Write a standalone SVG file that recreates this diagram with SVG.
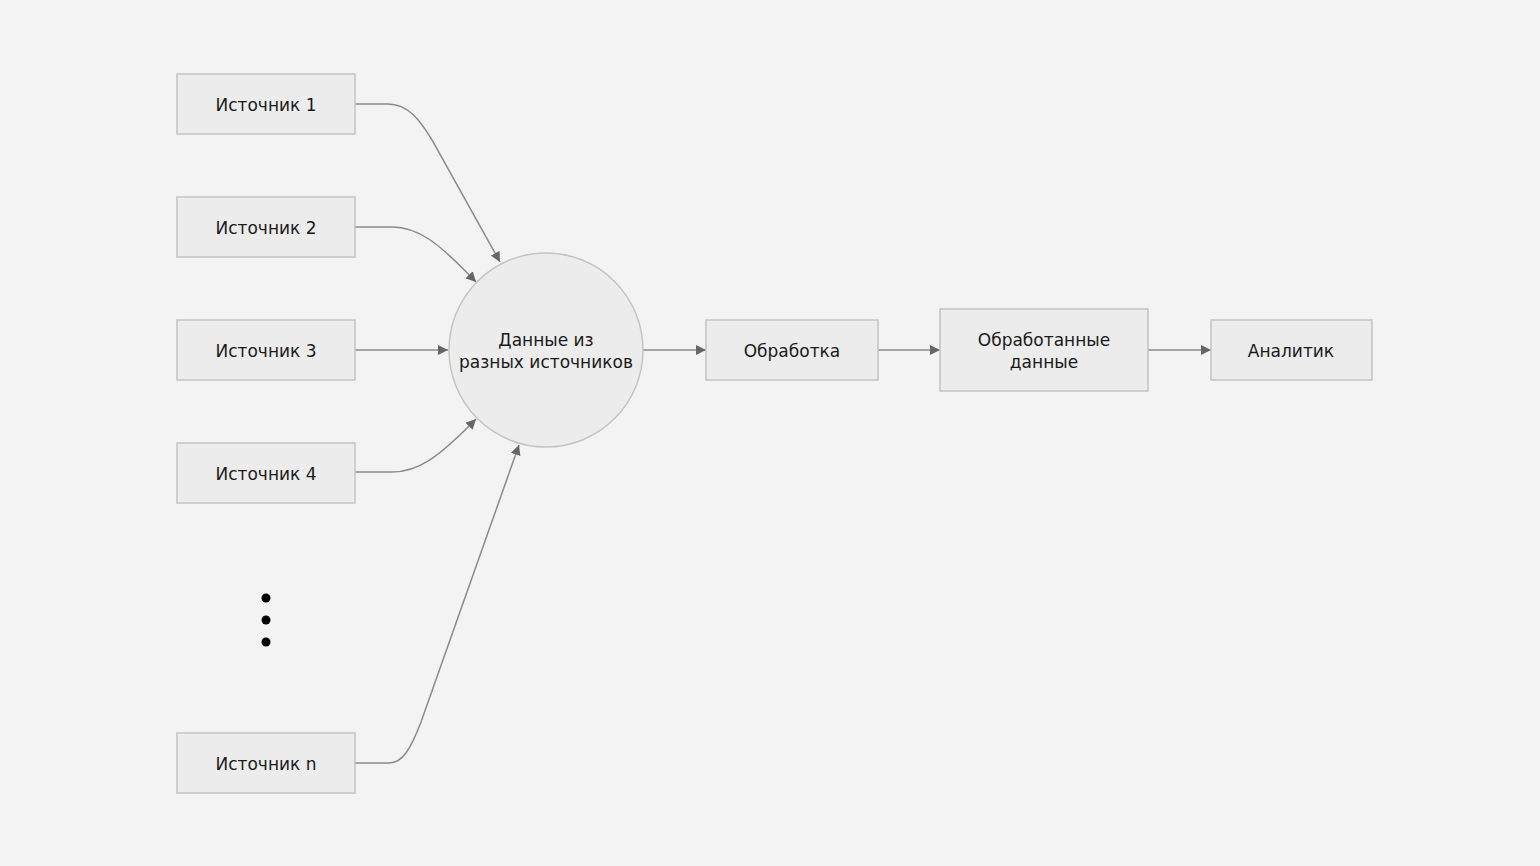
<svg xmlns="http://www.w3.org/2000/svg" width="1540" height="866" viewBox="0 0 1540 866">
<style>
.bg{fill:#f3f3f3}
.box{fill:#ececec;stroke:#c4c4c4;stroke-width:1.5}
.lbl{font-family:"DejaVu Sans","Verdana",sans-serif;font-size:17px;fill:#1a1a1a;text-anchor:middle;dominant-baseline:central}
.edge{fill:none;stroke:#8a8a8a;stroke-width:1.5}
.dot{fill:#000}
</style>
<defs>
<marker id="arr" markerUnits="userSpaceOnUse" markerWidth="11" markerHeight="10" refX="10" refY="5" orient="auto">
<path d="M0,0 L10,5 L0,10 z" fill="#666"/>
</marker>
</defs>
<rect class="bg" x="0" y="0" width="1540" height="866"/>
<g id="connectors">
<path class="edge" marker-end="url(#arr)" d="M355,104 H388 C408,104 420,120 432,140 L500,262"/>
<path class="edge" marker-end="url(#arr)" d="M355,227 H392 C418,227 438,242 476,282"/>
<path class="edge" marker-end="url(#arr)" d="M355,350 H448"/>
<path class="edge" marker-end="url(#arr)" d="M355,472 H392 C418,472 438,458 476,419"/>
<path class="edge" marker-end="url(#arr)" d="M355,763 H389 C403,763 411,748 421,722 L519,445"/>
<path class="edge" marker-end="url(#arr)" d="M643,350 H706"/>
<path class="edge" marker-end="url(#arr)" d="M878,350 H940"/>
<path class="edge" marker-end="url(#arr)" d="M1148,350 H1211"/>
</g>
<g id="src1"><rect class="box" x="177" y="74" width="178" height="60"/><text class="lbl" x="266" y="105">Источник 1</text></g>
<g id="src2"><rect class="box" x="177" y="197" width="178" height="60"/><text class="lbl" x="266" y="228">Источник 2</text></g>
<g id="src3"><rect class="box" x="177" y="320" width="178" height="60"/><text class="lbl" x="266" y="351">Источник 3</text></g>
<g id="src4"><rect class="box" x="177" y="443" width="178" height="60"/><text class="lbl" x="266" y="474">Источник 4</text></g>
<g id="dots"><circle class="dot" cx="266" cy="598" r="4.5"/><circle class="dot" cx="266" cy="620" r="4.5"/><circle class="dot" cx="266" cy="642" r="4.5"/></g>
<g id="srcn"><rect class="box" x="177" y="733" width="178" height="60"/><text class="lbl" x="266" y="764">Источник n</text></g>
<g id="data"><circle class="box" cx="546" cy="350" r="97"/><text class="lbl" x="546" y="340">Данные из</text><text class="lbl" x="546" y="362">разных источников</text></g>
<g id="proc"><rect class="box" x="706" y="320" width="172" height="60"/><text class="lbl" x="792" y="351">Обработка</text></g>
<g id="procdata"><rect class="box" x="940" y="309" width="208" height="82"/><text class="lbl" x="1044" y="340">Обработанные</text><text class="lbl" x="1044" y="362">данные</text></g>
<g id="analyst"><rect class="box" x="1211" y="320" width="161" height="60"/><text class="lbl" x="1291" y="351">Аналитик</text></g>
</svg>
